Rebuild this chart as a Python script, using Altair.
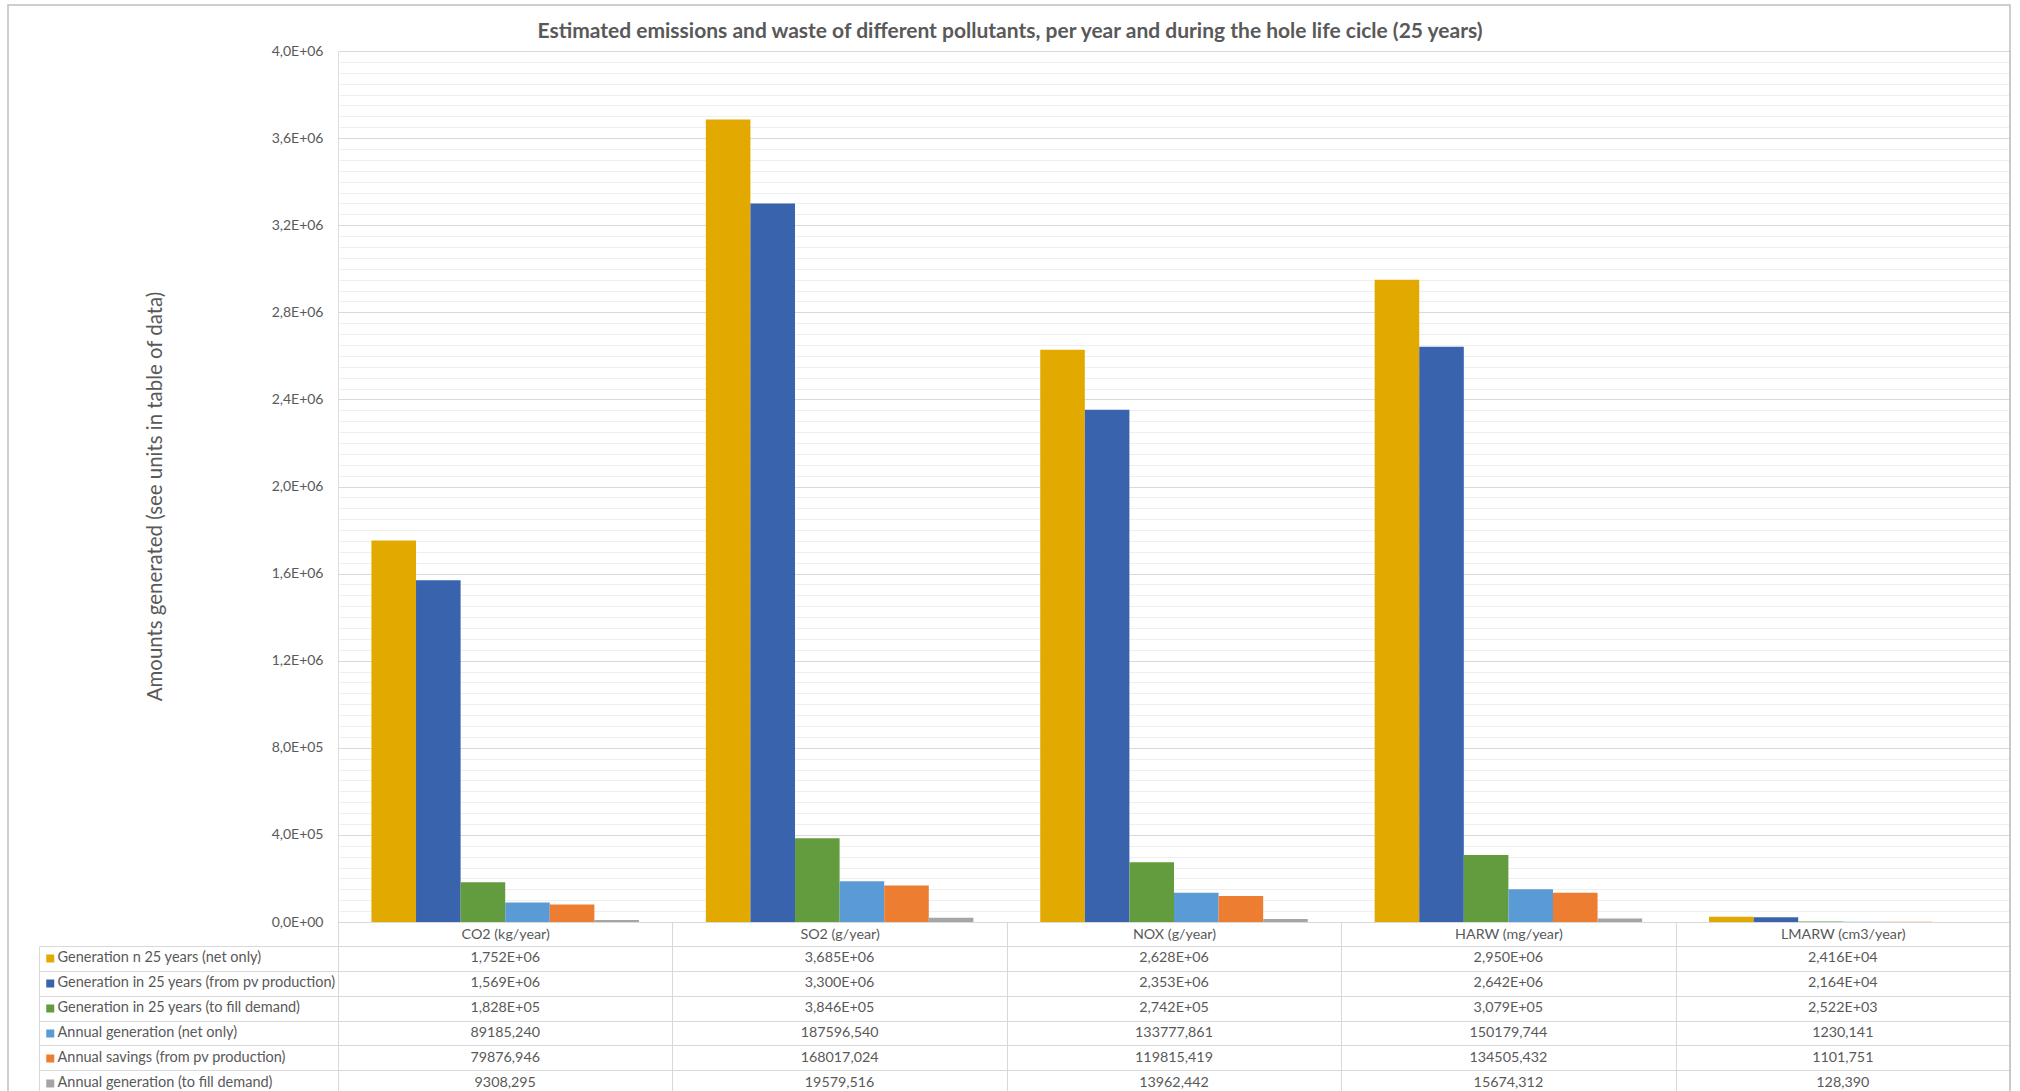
import altair as alt
import pandas as pd

# ---------------- data ----------------
categories = ["CO2 (kg/year)", "SO2 (g/year)", "NOX (g/year)", "HARW (mg/year)", "LMARW (cm3/year)"]
series = [
    "Generation n 25 years (net only)",
    "Generation in 25 years (from pv production)",
    "Generation in 25 years (to fill demand)",
    "Annual generation (net only)",
    "Annual savings (from pv production)",
    "Annual generation (to fill demand)",
]
colors = ["#E2AA00", "#3A63AD", "#629C3F", "#5B9BD5", "#ED7D31", "#A5A5A5"]

gen25_net = [1.752e6, 3.685e6, 2.628e6, 2.950e6, 2.416e4]
gen25_pv = [1.569e6, 3.300e6, 2.353e6, 2.642e6, 2.164e4]
gen25_fill = [1.828e5, 3.846e5, 2.742e5, 3.079e5, 2.522e3]
annual_net = [89185.240, 187596.540, 133777.861, 150179.744, 1230.141]
annual_savings = [79876.946, 168017.024, 119815.419, 134505.432, 1101.751]
annual_fill = [9308.295, 19579.516, 13962.442, 15674.312, 128.390]
all_values = [gen25_net, gen25_pv, gen25_fill, annual_net, annual_savings, annual_fill]
sci_rows = [True, True, True, False, False, False]

y_ticks = [0, 400000, 800000, 1200000, 1600000, 2000000, 2400000, 2800000, 3200000, 3600000, 4000000]
minor_ticks = [i * 50000 for i in range(81)]

title_text = "Estimated emissions and waste of different pollutants, per year and during the hole life cicle (25 years)"
y_title = "Amounts generated (see units in table of data)"


def fmt(v, sci):
    s = f"{v:.3E}" if sci else f"{v:.3f}"
    return s.replace(".", ",")


records = []
for name, vals, sci in zip(series, all_values, sci_rows):
    for cat, v in zip(categories, vals):
        records.append({"series": name, "category": cat, "value": v, "label": fmt(v, sci)})
df = pd.DataFrame(records)

# ---------------- styling ----------------
W, H = 1672, 871
ROW_RANGE = [895, 1044]
FONT = "Lato"
GRAY = "#595959"
LINE = "#d9d9d9"

base = alt.Chart(df)

border = alt.Chart(alt.Data(values=[{"a": 1}])).mark_rect(
    fillOpacity=0, stroke="#bfbfbf", strokeWidth=1.5
).encode(x=alt.value(-330), x2=alt.value(1672), y=alt.value(-46), y2=alt.value(1050))

minor = base.mark_point(opacity=0).encode(
    y=alt.Y(
        "value:Q",
        scale=alt.Scale(domain=[0, 4e6]),
        axis=alt.Axis(orient="left", values=minor_ticks, grid=True, gridColor="#efefef",
                      labels=False, ticks=False, domain=False, title=None),
    )
)

bars = base.mark_bar().encode(
    x=alt.X("category:N", sort=categories,
            scale=alt.Scale(paddingInner=0.2, paddingOuter=0.1), axis=None),
    xOffset=alt.XOffset("series:N", sort=series),
    y=alt.Y(
        "value:Q",
        scale=alt.Scale(domain=[0, 4e6]),
        axis=alt.Axis(
            orient="left", values=y_ticks, grid=True, gridColor=LINE, ticks=False, domain=False,
            labelExpr="replace(replace(format(datum.value, '.1e'), '.', ','), 'e+', 'E+0')",
            labelFont=FONT, labelFontSize=14, labelColor=GRAY, labelPadding=15,
            title=y_title, titleFont=FONT, titleFontSize=20.4, titleFontWeight="normal",
            titleColor=GRAY, titleX=-183, titleY=445, titleAngle=270,
            titleAlign="center", titleBaseline="middle",
        ),
    ),
    color=alt.Color(
        "series:N", sort=series,
        scale=alt.Scale(domain=series, range=colors),
        legend=alt.Legend(
            orient="none", legendX=-295, legendY=895, title=None,
            symbolType="square", symbolSize=64, symbolStrokeWidth=0,
            labelFont=FONT, labelFontSize=14.5, labelColor=GRAY, labelLimit=400,
            labelOffset=0, clipHeight=24.8, rowPadding=0, padding=0,
        ),
    ),
)

table = base.mark_text(font=FONT, fontSize=14.3, color=GRAY).encode(
    x=alt.X(
        "category:N", sort=categories,
        scale=alt.Scale(paddingInner=0, paddingOuter=0),
        axis=alt.Axis(
            orient="bottom", title=None, domain=True, domainColor=LINE,
            ticks=True, tickBand="extent", tickSize=174, tickColor=LINE,
            labelPadding=-169, labelFont=FONT, labelFontSize=14.3, labelColor=GRAY,
            labelAngle=0, grid=False,
        ),
    ),
    y=alt.Y(
        "series:N", sort=series,
        scale=alt.Scale(domain=series, range=ROW_RANGE, paddingInner=0, paddingOuter=0),
        axis=alt.Axis(
            orient="left", title=None, labels=False, domain=False,
            ticks=True, tickBand="extent", tickSize=299, tickColor=LINE,
            grid=True, gridColor=LINE,
        ),
    ),
    text="label:N",
)

left_border = base.mark_point(opacity=0).encode(
    y=alt.Y(
        "series:N", sort=series,
        scale=alt.Scale(domain=series, range=ROW_RANGE, paddingInner=0, paddingOuter=0),
        axis=alt.Axis(orient="left", offset=299, title=None, labels=False, ticks=False,
                      grid=False, domain=True, domainColor=LINE),
    )
)

chart = (
    alt.layer(border, minor, bars, table, left_border)
    .resolve_scale(x="independent", y="independent")
    .properties(
        width=W, height=H,
        title=alt.TitleParams(
            text=title_text, font=FONT, fontSize=21, fontWeight="bold", color=GRAY,
            anchor="middle", dx=-164, dy=38, offset=0,
        ),
        padding={"left": 338, "top": 51, "right": 10, "bottom": 169},
        autosize=alt.AutoSizeParams(type="none"),
    )
    .configure_view(stroke=None)
    .configure(background="white")
)

chart.save("out.html", embed_options={"renderer": "svg", "actions": False})
